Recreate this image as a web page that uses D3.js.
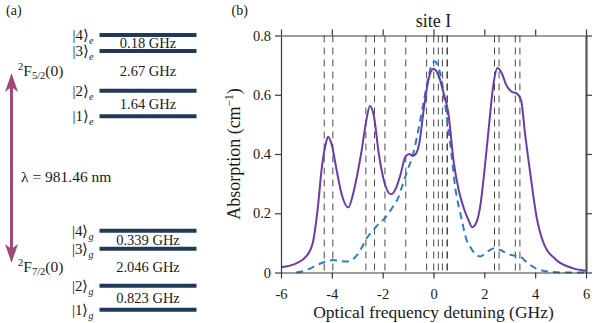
<!DOCTYPE html>
<html>
<head>
<meta charset="utf-8">
<script src="https://cdn.jsdelivr.net/npm/d3@7"></script>
<style>
  html, body { margin: 0; padding: 0; background: #fff; }
  svg { display: block; }
  svg text { font-family: "Liberation Serif"; }
</style>
</head>
<body>
<div id="chart"></div>
<script>
// ---------------- data ----------------
const xTicks = [-6, -4, -2, 0, 2, 4, 6];
const yTicks = [0, 0.2, 0.4, 0.6, 0.8];

// transition frequencies (vertical dashed lines), GHz
const transitions = [-4.30, -3.96, -2.66, -2.32, -1.91, -1.09, -0.27, 0.01, 0.19, 0.35, 0.53, 0.55, 2.40, 2.58, 3.22, 3.40];

// solid purple curve
const fitX = [-6, -5.4, -5.0, -4.75, -4.55, -4.4, -4.25, -4.15, -4.0, -3.8, -3.6, -3.35, -3.15, -3.0, -2.83, -2.65, -2.5, -2.35, -2.15, -1.95, -1.67, -1.45, -1.3, -1.1, -0.95, -0.82, -0.7, -0.55, -0.4, -0.2, 0, 0.2, 0.4, 0.58, 0.8, 1.0, 1.2, 1.37, 1.52, 1.7, 1.85, 2.0, 2.2, 2.35, 2.52, 2.7, 2.85, 3.05, 3.3, 3.45, 3.6, 3.8, 4.05, 4.35, 4.8, 5.5, 6];
const fitY = [0.018, 0.031, 0.055, 0.10, 0.22, 0.35, 0.43, 0.458, 0.43, 0.34, 0.26, 0.22, 0.27, 0.33, 0.41, 0.51, 0.562, 0.53, 0.40, 0.31, 0.264, 0.29, 0.33, 0.392, 0.40, 0.394, 0.40, 0.44, 0.54, 0.65, 0.688, 0.665, 0.605, 0.54, 0.37, 0.275, 0.215, 0.178, 0.153, 0.172, 0.23, 0.34, 0.51, 0.63, 0.69, 0.67, 0.635, 0.612, 0.603, 0.58, 0.47, 0.34, 0.19, 0.095, 0.045, 0.014, 0.006];

// dashed blue curve
const bgX = [-5.4, -5.0, -4.7, -4.4, -4.2, -3.95, -3.6, -3.4, -3.1, -2.85, -2.63, -2.4, -2.2, -1.9, -1.6, -1.4, -1.2, -1.0, -0.8, -0.6, -0.4, -0.2, -0.05, 0.06, 0.2, 0.32, 0.45, 0.58, 0.72, 0.85, 1.0, 1.11, 1.3, 1.44, 1.65, 1.83, 2.0, 2.2, 2.42, 2.65, 2.88, 3.1, 3.41, 3.6, 3.8, 4.05, 4.32, 4.7, 5.1, 6];
const bgY = [0, 0.008, 0.02, 0.032, 0.038, 0.042, 0.038, 0.037, 0.05, 0.08, 0.116, 0.14, 0.16, 0.185, 0.222, 0.25, 0.30, 0.35, 0.40, 0.48, 0.57, 0.66, 0.705, 0.712, 0.69, 0.65, 0.57, 0.49, 0.39, 0.29, 0.22, 0.178, 0.11, 0.087, 0.062, 0.054, 0.062, 0.075, 0.082, 0.075, 0.065, 0.058, 0.054, 0.04, 0.026, 0.013, 0.006, 0.002, 0, 0];

// energy level diagram
const excitedLabels = ["4", "3", "2", "1"];
const groundLabels = ["4", "3", "2", "1"];
const excitedSplits = ["0.18 GHz", "2.67 GHz", "1.64 GHz"];
const groundSplits = ["0.339 GHz", "2.046 GHz", "0.823 GHz"];
const wavelengthLabel = "λ = 981.46 nm";

// ---------------- drawing ----------------
const W = 598, H = 323;
const FONT = "Liberation Serif";
const svg = d3.select("#chart").append("svg").attr("width", W).attr("height", H)
  .attr("font-family", FONT).attr("fill", "#1a1a1a");
svg.append("rect").attr("width", W).attr("height", H).attr("fill", "#fff");

const axisColor = "#3a3a3a";
const levelColor = "#1f3a5a";
const arrowColor = "#9e4a7c";
const purple = "#6a3da6";
const blue = "#2a7fc4";

// ---- panel (a) ----
svg.append("text").attr("x", 6).attr("y", 15).attr("font-size", 14).text("(a)");

const lvlX0 = 99.5, lvlX1 = 196.5;
const excitedY = [35, 51, 90.7, 116.3];
const groundY = [230.7, 248.7, 285.7, 309.7];
const fs = 14.5;

function drawLevels(ys, labels, sub) {
  ys.forEach((yy, i) => {
    svg.append("line").attr("x1", lvlX0).attr("x2", lvlX1).attr("y1", yy).attr("y2", yy)
      .attr("stroke", levelColor).attr("stroke-width", 4);
    const t = svg.append("text").attr("x", 93.5).attr("y", yy + 5).attr("text-anchor", "end")
      .attr("font-size", 15);
    t.append("tspan").text("|" + labels[i] + "⟩");
    t.append("tspan").attr("font-size", 10).attr("font-style", "italic").attr("dy", 4).text(sub);
  });
}
drawLevels(excitedY, excitedLabels, "e");
drawLevels(groundY, groundLabels, "g");

function drawSplits(ys, texts) {
  for (let i = 0; i < texts.length; i++) {
    const yy = (ys[i] + ys[i + 1]) / 2 + 5;
    svg.append("text").attr("x", 148).attr("y", yy).attr("text-anchor", "middle")
      .attr("font-size", fs).text(texts[i]);
  }
}
drawSplits(excitedY, excitedSplits);
drawSplits(groundY, groundSplits);

// term labels
function termLabel(x0, y0, jnum) {
  const t = svg.append("text").attr("x", x0).attr("y", y0).attr("font-size", 15.5);
  t.append("tspan").attr("font-size", 10.5).attr("dy", -6).text("2");
  t.append("tspan").attr("dy", 6).text("F");
  t.append("tspan").attr("font-size", 10.5).attr("dy", 3).text(jnum);
  t.append("tspan").attr("dy", -3).text("(0)");
}
termLabel(18, 76, "5/2");
termLabel(18, 272, "7/2");

// double arrow
const ax = 11.5, aTop = 73, aBot = 263;
svg.append("line").attr("x1", ax).attr("x2", ax).attr("y1", aTop + 12).attr("y2", aBot - 12)
  .attr("stroke", arrowColor).attr("stroke-width", 3);
svg.append("path")
  .attr("d", `M${ax},${aTop} L${ax + 6.5},${aTop + 19} L${ax},${aTop + 14} L${ax - 6.5},${aTop + 19} Z`)
  .attr("fill", arrowColor);
svg.append("path")
  .attr("d", `M${ax},${aBot} L${ax + 6.5},${aBot - 19} L${ax},${aBot - 14} L${ax - 6.5},${aBot - 19} Z`)
  .attr("fill", arrowColor);
svg.append("text").attr("x", 21).attr("y", 182).attr("font-size", 15.5).text(wavelengthLabel);

// ---- panel (b) ----
svg.append("text").attr("x", 231.5).attr("y", 15).attr("font-size", 14).text("(b)");

const L = 281, R = 586, T = 35.5, B = 272.5;
const x = d3.scaleLinear().domain([-6, 6]).range([L, R]);
const y = d3.scaleLinear().domain([0, 0.8]).range([B, T]);

const fmt = d => String(d);
const tickFs = 14.5;

// dashed transition lines
svg.append("g").selectAll("line").data(transitions).join("line")
  .attr("x1", d => x(d)).attr("x2", d => x(d))
  .attr("y1", T).attr("y2", B)
  .attr("stroke", "#4a4a4a").attr("stroke-width", 1)
  .attr("stroke-dasharray", "7,5");

// curves
const lineGen = d3.line().x(d => x(d[0])).y(d => y(d[1])).curve(d3.curveMonotoneX);
svg.append("path").datum(bgX.map((v, i) => [v, bgY[i]]))
  .attr("d", lineGen).attr("fill", "none").attr("stroke", blue)
  .attr("stroke-width", 2).attr("stroke-dasharray", "7,5");
svg.append("path").datum(fitX.map((v, i) => [v, fitY[i]]))
  .attr("d", lineGen).attr("fill", "none").attr("stroke", purple)
  .attr("stroke-width", 2);

// axes
function styleAxis(g) {
  g.attr("font-family", FONT);
  g.selectAll("path").attr("stroke", axisColor).attr("stroke-width", 1.2);
  g.selectAll("line").attr("stroke", axisColor).attr("stroke-width", 1.2);
  g.selectAll("text").attr("font-family", FONT).attr("font-size", tickFs).attr("fill", "#1a1a1a");
}
const gB = svg.append("g").attr("transform", `translate(0,${B})`)
  .call(d3.axisBottom(x).tickValues(xTicks).tickFormat(fmt).tickSize(6).tickSizeOuter(0).tickPadding(10));
styleAxis(gB);
const gT = svg.append("g").attr("transform", `translate(0,${T})`)
  .call(d3.axisTop(x).tickValues(xTicks).tickFormat("").tickSize(6).tickSizeOuter(0));
styleAxis(gT);
const gL = svg.append("g").attr("transform", `translate(${L},0)`)
  .call(d3.axisLeft(y).tickValues(yTicks).tickFormat(fmt).tickSize(6).tickSizeOuter(0).tickPadding(4));
styleAxis(gL);
const gR = svg.append("g").attr("transform", `translate(${R},0)`)
  .call(d3.axisRight(y).tickValues(yTicks).tickFormat("").tickSize(6).tickSizeOuter(0));
styleAxis(gR);
gR.select("path").attr("stroke-width", 2.2).attr("stroke", "#555");

// title and labels
svg.append("text").attr("x", (L + R) / 2).attr("y", 27).attr("text-anchor", "middle")
  .attr("font-size", 18).text("site I");
svg.append("text").attr("x", (L + R) / 2).attr("y", 318).attr("text-anchor", "middle")
  .attr("font-size", 17.5).text("Optical frequency detuning (GHz)");
const yl = svg.append("text").attr("transform", `translate(240,${(T + B) / 2}) rotate(-90)`)
  .attr("text-anchor", "middle").attr("font-size", 18);
yl.append("tspan").text("Absorption (cm");
yl.append("tspan").attr("font-size", 11.5).attr("dy", -7).text("−1");
yl.append("tspan").attr("dy", 7).text(")");
</script>
</body>
</html>
